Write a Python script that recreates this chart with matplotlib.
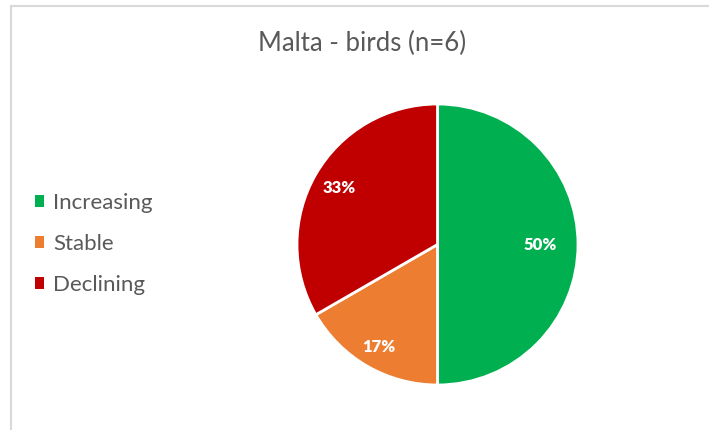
import math
import matplotlib.pyplot as plt
from matplotlib.lines import Line2D

# trend categories for Malta bird species
categories = ["Increasing", "Stable", "Declining"]
counts = [3, 1, 2]
colours = ["#00B050", "#ED7D31", "#C00000"]
title = "Malta - birds (n=6)"

W, H = 709, 430
fig = plt.figure(figsize=(W / 100, H / 100), dpi=100)
plt.rcParams['font.family'] = ['Lato', 'DejaVu Sans']

# chart area border (top and left edges visible)
fig.add_artist(Line2D([10.5 / W, 1], [1 - 5.5 / H, 1 - 5.5 / H], color="#d9d9d9", lw=1.5))
fig.add_artist(Line2D([10.5 / W, 10.5 / W], [0, 1 - 5.5 / H], color="#d9d9d9", lw=1.5))

# pie axes placed in pixel terms
cx, cy, r = 437.5, 430 - 244.5, 140.5
ax = fig.add_axes([(cx - r) / W, (cy - r) / H, 2 * r / W, 2 * r / H])
wedges, _ = ax.pie(counts, colors=colours, startangle=90, counterclock=False,
                   radius=1, wedgeprops=dict(edgecolor="white", linewidth=2))
ax.set_xlim(-1, 1)
ax.set_ylim(-1, 1)
ax.set_aspect("equal")
ax.axis("off")

total = sum(counts)
dist = [0.73, 0.84, 0.81]
for w, c, d in zip(wedges, counts, dist):
    ang = math.radians((w.theta1 + w.theta2) / 2)
    ax.text(d * math.cos(ang), d * math.sin(ang), "%d%%" % round(100 * c / total),
            ha="center", va="center", color="white", fontsize=12, fontweight="heavy")

fig.text(362 / W, 1 - 43 / H, title, ha="center", va="center", fontsize=18.5, color="#595959")

leg = fig.legend(wedges, categories, loc="center left", bbox_to_anchor=(35 / W, 1 - 244 / H),
                 frameon=False, fontsize=16, handlelength=0.42, handleheight=0.42,
                 handletextpad=0.4, labelspacing=0.95, labelcolor="#595959",
                 borderpad=0, borderaxespad=0)
for h in leg.legend_handles:
    h.set_edgecolor("none")

fig.savefig("out.png", dpi=100)
